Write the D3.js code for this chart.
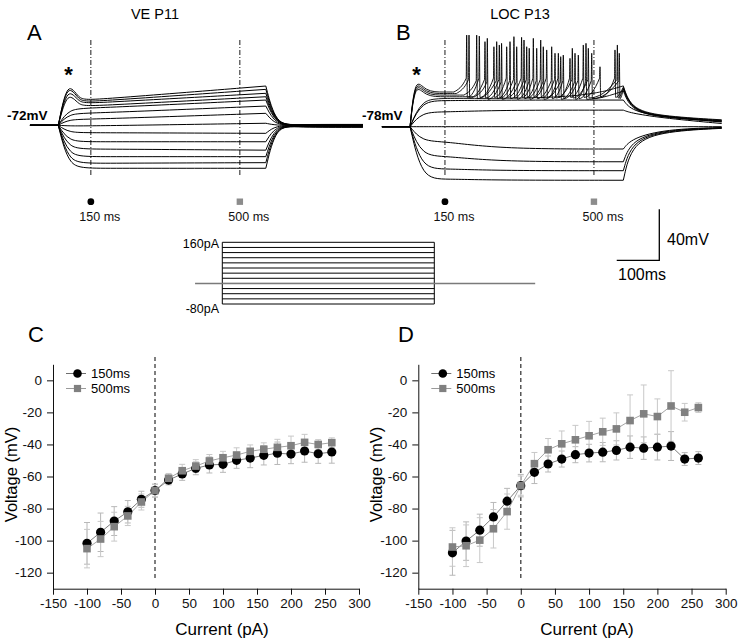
<!DOCTYPE html>
<html><head><meta charset="utf-8">
<script src="https://cdn.jsdelivr.net/npm/d3@7"></script>
<style>
body{margin:0;background:#fff}
svg text{font-family:Arial,"Liberation Sans",sans-serif}
</style>
</head><body>
<svg id="fig" width="739" height="643"></svg>
<script>
// ---------------- DATA ----------------
// I-V curves (panels C, D)
const ivCurrents = [-100,-80,-60,-40,-20,0,20,40,60,80,100,120,140,160,180,200,220,240,260];
const xTicks = [-150,-100,-50,0,50,100,150,200,250,300];
const yTicks = [-120,-100,-80,-60,-40,-20,0];
const c150 = [-101.7,-94.8,-87.8,-82,-74.2,-68.8,-62.2,-58.4,-54.9,-52.8,-52.4,-49.9,-48.5,-46.8,-45.5,-46,-44.1,-45.8,-44.7];
const c150Err = [13,12,9,7,5,4,3,4,4,5,5,5,6,6,7,6,7,6,7];
const c500 = [-105,-99,-91.3,-84.6,-75.9,-68.8,-61.1,-56.4,-53.5,-50.3,-48.3,-46.6,-44.3,-43,-41.8,-40.8,-38.7,-40,-38.9];
const c500Err = [12,11,9,6,5,4,3,4,4,4,4,4.5,4,4,5,6,5,3,3];
const d150 = [-107.6,-100.3,-93.5,-85.2,-75.4,-65.7,-57.4,-52.2,-49.1,-46.4,-45.4,-44.8,-43.7,-41.7,-42.3,-41.7,-41,-49.1,-48.5];
const d150Err = [14,12,10,9,8,7,7,5,5,5,5.5,6,6,7,7,8,9,4,4];
const d500 = [-104,-103.2,-99.7,-92.6,-81.9,-65.7,-52,-43.3,-39.6,-37.1,-34.6,-32.1,-30.3,-25.1,-20.9,-22.6,-16,-19.9,-17];
const d500Err = [12,13,14,12,11,6,7,7,8,9,9,8.5,10,16,18,11,22,5.5,3];
const legendLabels = ["150ms","500ms"];

// Voltage traces (panels A, B), time in ms, voltage in mV
const markerTimes = [150, 500];
const markerLabels = ["150 ms","500 ms"];
const aRest = -72, aStart = 7, aOn = 73.5, aOff = 561, aEnd = 789;
const aV150 = [-52.2,-53.5,-54.7,-56.9,-58.7,-62.6,-67.3,-72.5,-77.8,-84.9,-90.6,-96.6,-101.8,-105.7];
const aVEnd = [-41.2,-43.8,-46.9,-49.6,-52.2,-56.9,-62.6,-70.4,-78.3,-84.9,-91.5,-96.6,-101.3,-105.7];
const aPeak = [-44.3,-45.6,-48.2,-50.8,null,null,null,null,null,null,null,null,null,null];
const aTail = [-71.3,-71.4,-71.5,-71.6,-71.7,-71.9,-72,-72.2,-72.5,-72.8,-73,-73.2,-73.4,-73.5];

const bRest = -78, bStart = 2, bOn = 68, bOff = 569, bEnd = 800;
// spiking traces
const bPlat = [-50.8,-52,-53.2,-54.5,-55.8];
const bPeak = [-46.6,-47.9,-49.2,-50.5,null];
const bThr = [-40,-41,-42,-43,-44];
const bAhp = [-55,-55.5,-56,-56.5,-57];
const bSpikeTimes = [
  [201,230.7,265,295,330,357.6,389,416.4,443.7,475,514.2,549.4],
  [206.5,244,277.7,312,342,374.9,408.5,449.2,486.8,555],
  [224.5,271.5,302.8,335.7,365.5,400.7,428,463.3,494.7,559.5],
  [249.5,283,318.5,348,381,421.9,455.5,481.3],
  []
];
const bSpikePeaks = [
  [-6.1,-6.9,-15.3,-15.3,-7.9,-8.7,-17.8,-20.4,-24.4,-13.9,-31,-17.8],
  [-6.1,-11.3,-13.9,-7.4,-15.3,-10,-20.4,-16.5,-16.5,-13.9],
  [-6.1,-11.3,-11.3,-10,-16.5,-15.3,-21.8,-21.8,-20.4,-20.4],
  [-8.7,-12.6,-15.3,-16.5,-15.3,-23.1,-20.4,-12.6],
  []
];
const bSpkEnd = [-47,-48,-48.5,-50,-46];
const bSpkRec1 = [-65,-65.5,-66,-66.5,-66];
const bSpkRec2 = [-70,-70.3,-70.6,-71,-71];
const bSpkTail = [-72.6,-73,-73.3,-73.6,-74];
// non-spiking traces
const bV150 = [-57.6,-66.5,-78,-89.5,-101,-111,-119];
const bVEnd = [-57.1,-65,-78,-95.5,-105.5,-112.5,-120];
const bRec1 = [-66,-67.5,-78,-87,-88,-89,-90];
const bRec2 = [-70.5,-71.5,-78,-80,-80.5,-81,-81.5];
const bTail = [-74.3,-75.5,-78,-78.6,-78.9,-79.1,-79.3];

// stimulus protocol
const stimLevels = [-80,-60,-40,-20,0,20,40,60,80,100,120,140,160];
const stimTimes = [-64, 0, 498, 735];
const stimLabels = ["160pA","-80pA"];
const scaleBar = {ms:100, mV:40};

// ---------------- DRAW ----------------
const svg = d3.select("#fig");
const black = "#000";

const pxPerMs = 0.4257, pxPerMv = 1.275;
const tA = d3.scaleLinear().domain([0, 790]).range([27, 27 + 790*pxPerMs]);
const tB = d3.scaleLinear().domain([0, 800]).range([381.1, 381.1 + 800*pxPerMs]);
const vA = d3.scaleLinear().domain([-72, -32]).range([125.3, 125.3 - 40*pxPerMv]);
const vB = d3.scaleLinear().domain([-78, -38]).range([126.7, 126.7 - 40*pxPerMv]);

function pathFrom(tx, vy, segs){
  return segs.map(s => d3.line().x(d=>tx(d[0])).y(d=>vy(d[1])).curve(s.c)(s.p)).join("");
}
function drawTrace(g, d, w){
  g.append("path").attr("d", d).attr("fill","none").attr("stroke",black)
   .attr("stroke-width",w||1).attr("stroke-linejoin","round");
}
const gA = svg.append("g");
aV150.forEach((v150,i)=>{
  const segs = [{c:d3.curveLinear, p:[[aStart,aRest],[aOn,aRest]]}];
  let on;
  if (aPeak[i] !== null){
    const ctrl = (6*aPeak[i] - aRest - v150)/4;
    on = [[aOn,aRest],[aOn+22,ctrl],[aOn+48,v150],[150,v150],[aOff,aVEnd[i]]];
  } else {
    on = [[aOn,aRest],[aOn+25,v150],[150,v150],[aOff,aVEnd[i]]];
  }
  segs.push({c:d3.curveBasis, p:on});
  segs.push({c:d3.curveBasis, p:[[aOff,aVEnd[i]],[aOff+24,aRest],[aOff+70,aTail[i]],[aEnd,aTail[i]]]});
  drawTrace(gA, pathFrom(tA, vA, segs));
});

const gB = svg.append("g");
bV150.forEach((v150,i)=>{
  const segs = [{c:d3.curveLinear, p:[[bStart,bRest],[bOn,bRest]]}];
  segs.push({c:d3.curveBasis, p:[[bOn,bRest],[bOn+28,v150],[150,v150],[280,bVEnd[i]],[bOff,bVEnd[i]]]});
  segs.push({c:d3.curveBasis, p:[[bOff,bVEnd[i]],[bOff+20,bRec1[i]],[bOff+100,bRec2[i]],[bEnd,bTail[i]]]});
  drawTrace(gB, pathFrom(tB, vB, segs));
});
bPlat.forEach((plat,i)=>{
  const segs = [{c:d3.curveLinear, p:[[bStart,bRest],[bOn,bRest]]}];
  const sp = bSpikeTimes[i], pk = bSpikePeaks[i];
  let on;
  if (bPeak[i] !== null){
    const ctrl = (6*bPeak[i] - bRest - plat)/4;
    on = [[bOn,bRest],[bOn+12,ctrl],[bOn+35,plat],[150,plat]];
  } else {
    on = [[bOn,bRest],[bOn+28,plat],[150,plat]];
  }
  if (sp.length){
    on.push([sp[0]-30, plat]);
    segs.push({c:d3.curveBasis, p:on});
    const train = [[sp[0]-30, plat]];
    sp.forEach((s,k)=>{
      train.push([s-1.1, bThr[i]]);
      train.push([s, pk[k]]);
      train.push([s+1.6, bAhp[i]]);
    });
    train.push([bOff, bSpkEnd[i]]);
    segs.push({c:d3.curveMonotoneX, p:train});
  } else {
    on.push([470, plat]); on.push([bOff, bSpkEnd[i]]);
    segs.push({c:d3.curveBasis, p:on});
  }
  segs.push({c:d3.curveBasis, p:[[bOff,bSpkEnd[i]],[bOff+20,bSpkRec1[i]],[bOff+100,bSpkRec2[i]],[bEnd,bSpkTail[i]]]});
  drawTrace(gB, pathFrom(tB, vB, segs), 0.9);
});

// time markers
[tA, tB].forEach(tx=>{
  markerTimes.forEach((t,k)=>{
    svg.append("line").attr("x1",tx(t)).attr("x2",tx(t)).attr("y1",40).attr("y2",176)
      .attr("stroke",black).attr("stroke-width",0.9).attr("stroke-dasharray","5,2,1,2");
    if (k===0) svg.append("circle").attr("cx",tx(t)).attr("cy",201.7).attr("r",3.4).attr("fill",black);
    else svg.append("rect").attr("x",tx(t)-3.2).attr("y",198.5).attr("width",6.4).attr("height",6.4).attr("fill","#8c8c8c");
    svg.append("text").attr("x",tx(t)+9).attr("y",221).attr("text-anchor","middle")
      .attr("font-size",12.5).attr("fill","#111").text(markerLabels[k]);
  });
});

// labels top
svg.append("text").attr("x",155).attr("y",19).attr("text-anchor","middle").attr("font-size",14.5).text("VE P11");
svg.append("text").attr("x",520).attr("y",19).attr("text-anchor","middle").attr("font-size",14.5).text("LOC P13");
svg.append("text").attr("x",27).attr("y",40).attr("font-size",22).text("A");
svg.append("text").attr("x",396).attr("y",40).attr("font-size",22).text("B");
svg.append("text").attr("x",68.5).attr("y",82).attr("text-anchor","middle").attr("font-size",22).attr("font-weight","bold").text("*");
svg.append("text").attr("x",416.5).attr("y",82).attr("text-anchor","middle").attr("font-size",22).attr("font-weight","bold").text("*");
svg.append("text").attr("x",7).attr("y",120).attr("font-size",13.5).attr("font-weight","bold").text(aRest+"mV");
svg.append("text").attr("x",362).attr("y",120).attr("font-size",13.5).attr("font-weight","bold").text(bRest+"mV");

// stimulus protocol
const sT = d3.scaleLinear().domain([0, 498]).range([222.3, 222.3 + 498*pxPerMs]);
const sI = d3.scaleLinear().domain([-80, 160]).range([304, 242.3]);
const gS = svg.append("g");
stimLevels.forEach(l=>{
  gS.append("line").attr("x1",sT(stimTimes[1])).attr("x2",sT(stimTimes[2]))
    .attr("y1",sI(l)).attr("y2",sI(l)).attr("stroke",black).attr("stroke-width",1);
});
[stimTimes[1], stimTimes[2]].forEach(t=>{
  gS.append("line").attr("x1",sT(t)).attr("x2",sT(t)).attr("y1",sI(-80)).attr("y2",sI(160))
    .attr("stroke",black).attr("stroke-width",1);
});
gS.append("line").attr("x1",sT(stimTimes[0])).attr("x2",sT(stimTimes[3]))
  .attr("y1",sI(0)).attr("y2",sI(0)).attr("stroke","#7a7a7a").attr("stroke-width",1.6);
gS.append("text").attr("x",219).attr("y",sI(160)+6).attr("text-anchor","end").attr("font-size",12.5).text(stimLabels[0]);
gS.append("text").attr("x",219).attr("y",sI(-80)+9).attr("text-anchor","end").attr("font-size",12.5).text(stimLabels[1]);

// scale bar
const sbX = 659.3, sbY = 260.3;
const sbW = tA(scaleBar.ms) - tA(0), sbH = vA(aRest) - vA(aRest + scaleBar.mV);
svg.append("path").attr("d",`M${sbX},${sbY-sbH}L${sbX},${sbY}L${sbX-sbW},${sbY}`)
  .attr("fill","none").attr("stroke",black).attr("stroke-width",1.3);
svg.append("text").attr("x",667).attr("y",245).attr("font-size",16).text(scaleBar.mV+"mV");
svg.append("text").attr("x",618).attr("y",280).attr("font-size",16).text(scaleBar.ms+"ms");

// ---------------- IV PANELS ----------------
function ivPanel(opts){
  const {x0,x1,letter,lx, m150, e150, m500, e500, labelX} = opts;
  const x = d3.scaleLinear().domain([-150,300]).range([x0,x1]);
  const y = d3.scaleLinear().domain([-130,10]).range([588.7,364.3]);
  const g = svg.append("g");
  const gx = g.append("g").attr("transform",`translate(0,${y(-130)})`)
    .call(d3.axisBottom(x).tickValues(xTicks).tickFormat(d=>String(d)).tickSize(6).tickSizeOuter(0).tickPadding(4));
  const gy = g.append("g").attr("transform",`translate(${x0},0)`)
    .call(d3.axisLeft(y).tickValues(yTicks).tickFormat(d=>String(d)).tickSize(6).tickSizeOuter(0).tickPadding(5));
  [gx,gy].forEach(a=>{
    a.selectAll("text").attr("font-size",13.5).attr("fill","#111").attr("font-family","Arial,'Liberation Sans',sans-serif");
    a.selectAll("line,path").attr("stroke","#111");
  });
  g.append("text").attr("x",labelX).attr("y",635).attr("text-anchor","middle").attr("font-size",17).text("Current (pA)");
  g.append("text").attr("transform",`translate(${x0-36},${y(-60)-2}) rotate(-90)`).attr("text-anchor","middle")
    .attr("font-size",16.5).text("Voltage (mV)");
  g.append("text").attr("x",lx).attr("y",342).attr("font-size",22).text(letter);
  g.append("line").attr("x1",x(0)).attr("x2",x(0)).attr("y1",357).attr("y2",579)
    .attr("stroke","#555").attr("stroke-width",1.5).attr("stroke-dasharray","4,3");
  const eb = (m,e,col)=>{
    ivCurrents.forEach((c,i)=>{
      const cx = x(c), ya = y(m[i]-e[i]), yb = y(m[i]+e[i]);
      g.append("line").attr("x1",cx).attr("x2",cx).attr("y1",ya).attr("y2",yb).attr("stroke",col).attr("stroke-width",1);
      [ya,yb].forEach(yy=>g.append("line").attr("x1",cx-3).attr("x2",cx+3).attr("y1",yy).attr("y2",yy).attr("stroke",col).attr("stroke-width",1));
    });
  };
  eb(m150,e150,"#b8b8b8");
  eb(m500,e500,"#c8c8c8");
  const ln = d3.line().x((d,i)=>x(ivCurrents[i])).y(d=>y(d));
  g.append("path").attr("d",ln(m150)).attr("fill","none").attr("stroke","#6e6e6e").attr("stroke-width",0.9);
  g.append("path").attr("d",ln(m500)).attr("fill","none").attr("stroke","#9a9a9a").attr("stroke-width",0.9);
  g.selectAll(null).data(m150).enter().append("circle")
    .attr("cx",(d,i)=>x(ivCurrents[i])).attr("cy",d=>y(d)).attr("r",4.6).attr("fill","#000");
  g.selectAll(null).data(m500).enter().append("rect")
    .attr("x",(d,i)=>x(ivCurrents[i])-3.8).attr("y",d=>y(d)-3.8).attr("width",7.6).attr("height",7.6).attr("fill","#808080");
  const lg = g.append("g");
  const lx0 = x0+13;
  lg.append("line").attr("x1",lx0).attr("x2",lx0+20).attr("y1",373.5).attr("y2",373.5).attr("stroke","#6e6e6e");
  lg.append("circle").attr("cx",lx0+11.5).attr("cy",373.5).attr("r",4.3).attr("fill","#000");
  lg.append("text").attr("x",lx0+25).attr("y",378).attr("font-size",13).text(legendLabels[0]);
  lg.append("line").attr("x1",lx0).attr("x2",lx0+20).attr("y1",388.5).attr("y2",388.5).attr("stroke","#9a9a9a");
  lg.append("rect").attr("x",lx0+11.5-3.6).attr("y",388.5-3.6).attr("width",7.2).attr("height",7.2).attr("fill","#808080");
  lg.append("text").attr("x",lx0+25).attr("y",393).attr("font-size",13).text(legendLabels[1]);
}
ivPanel({x0:53,x1:359,letter:"C",lx:28,m150:c150,e150:c150Err,m500:c500,e500:c500Err,labelX:222});
ivPanel({x0:418.3,x1:725.7,letter:"D",lx:398,m150:d150,e150:d150Err,m500:d500,e500:d500Err,labelX:587});
</script>
</body></html>
